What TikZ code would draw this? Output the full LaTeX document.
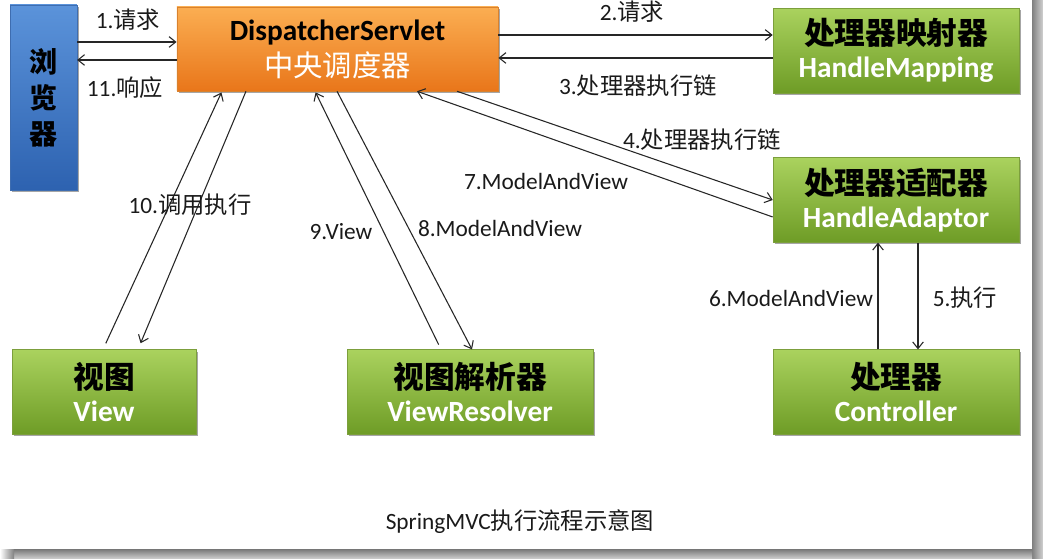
\documentclass[tikz,border=0pt]{standalone}
\usepackage{fontspec}
\setmainfont{Carlito}
\newfontfamily\cjk{Noto Sans CJK SC}
\usetikzlibrary{arrows.meta,shadows,calc}
\definecolor{gtop}{HTML}{AAD25E}
\definecolor{gbot}{HTML}{6E9C26}
\definecolor{gline}{HTML}{7C9F3C}
\definecolor{otop}{HTML}{FBAE52}
\definecolor{obot}{HTML}{E9761A}
\definecolor{oline}{HTML}{D9822E}
\definecolor{btop}{HTML}{5B93DA}
\definecolor{bbot}{HTML}{2D62B0}
\definecolor{bline}{HTML}{3E6DB0}
\definecolor{lbltext}{HTML}{1A1A1A}
\begin{document}
\begin{tikzpicture}[x=0.75pt,y=-0.75pt,
  basebox/.style={rectangle, inner sep=0pt, align=center,
    drop shadow={shadow xshift=1.5pt,shadow yshift=-1.5pt,opacity=0.35,fill=black}},
  greenbox/.style={basebox, draw=gline, top color=gtop, bottom color=gbot,
    minimum width=184.5pt, minimum height=63.5pt},
  orangebox/.style={basebox, draw=oline, top color=otop, bottom color=obot},
  bluebox/.style={basebox, draw=bline, top color=btop, bottom color=bbot},
  arr/.style={-{Straight Barb[length=5pt,width=8pt]}, line width=0.8pt, draw=black!85},
  lbl/.style={font=\fontsize{17.5}{20}\selectfont, text=lbltext, inner sep=1pt}
]
\useasboundingbox (0,0) rectangle (1043,559);
\fill[white] (0,0) rectangle (1043,559);
% frame bars
\shade[left color=black!50, right color=black!18] (1032,0) rectangle (1043,559);
\shade[top color=black!50, bottom color=black!18] (0,550) rectangle (1032,559);
\shade[left color=white, right color=black!50] (0,550) rectangle (14,559);

% nodes
\node[bluebox, minimum width=50pt, minimum height=139pt,
  font=\cjk\bfseries\fontsize{21}{27}\selectfont] (br) at (43.5,97.5)
  {浏\\览\\器};
\node[orangebox, minimum width=241pt, minimum height=63pt] (ds) at (337.5,49)
  {{\bfseries\fontsize{22}{26}\selectfont DispatcherServlet}\\[4pt]
   {\cjk\color{white}\fontsize{22}{26}\selectfont 中央调度器}};
\node[greenbox] (hm) at (896,50.5)
  {{\cjk\bfseries\fontsize{23}{27}\selectfont 处理器映射器}\\[6pt]
   {\bfseries\color{white}\fontsize{22}{26}\selectfont HandleMapping}};
\node[greenbox] (ha) at (896,200)
  {{\cjk\bfseries\fontsize{23}{27}\selectfont 处理器适配器}\\[6pt]
   {\bfseries\color{white}\fontsize{22}{26}\selectfont HandleAdaptor}};
\node[greenbox] (ctrl) at (896,392)
  {{\cjk\bfseries\fontsize{23}{27}\selectfont 处理器}\\[6pt]
   {\bfseries\color{white}\fontsize{22}{26}\selectfont Controller}};
\node[greenbox, minimum width=138pt] (view) at (104,392)
  {{\cjk\bfseries\fontsize{23}{27}\selectfont 视图}\\[6pt]
   {\bfseries\color{white}\fontsize{22}{26}\selectfont View}};
\node[greenbox] (vr) at (470,392)
  {{\cjk\bfseries\fontsize{23}{27}\selectfont 视图解析器}\\[6pt]
   {\bfseries\color{white}\fontsize{22}{26}\selectfont ViewResolver}};

% connectors
\draw[arr] (br.east |- 0,42) -- (ds.west |- 0,42);
\draw[arr] (ds.west |- 0,60) -- (br.east |- 0,60);
\draw[arr] (ds.east |- 0,35) -- (hm.west |- 0,35);
\draw[arr] (hm.west |- 0,58) -- (ds.east |- 0,58);
\draw[arr] (ds.south -| 457,0) -- (ha.west |- 0,200);
\draw[arr] (ha.west |- 0,217) -- (ds.south -| 417,0);
\draw[arr] (ha.south -| 918,0) -- (ctrl.north -| 918,0);
\draw[arr] (ctrl.north -| 878,0) -- (ha.south -| 878,0);
\draw[arr, shorten <=5pt, shorten >=1pt] (view.north -| 103,0) -- (ds.south -| 222,0);
\draw[arr, shorten >=5pt] (ds.south -| 246,0) -- (view.north -| 138,0);
\draw[arr, shorten <=4pt, shorten >=1pt] (vr.north -| 441,0) -- (ds.south -| 315,0);
\draw[arr] (ds.south -| 337,0) -- (vr.north -| 472,0);

% labels
\node[lbl] (l1) at (128,20) {1.{\cjk 请求}};
\node[lbl] (l11) at (125,88) {11.{\cjk 响应}};
\node[lbl] (l2) at (632,12) {2.{\cjk 请求}};
\node[lbl] (l3) at (638,86) {3.{\cjk 处理器执行链}};
\node[lbl] (l4) at (702,140) {4.{\cjk 处理器执行链}};
\node[lbl] (l7) at (546,181) {7.ModelAndView};
\node[lbl] (l10) at (190,205) {10.{\cjk 调用执行}};
\node[lbl] (l9) at (341,232) {9.View};
\node[lbl] (l8) at (500,228) {8.ModelAndView};
\node[lbl] (l6) at (791,298) {6.ModelAndView};
\node[lbl] (l5) at (965,298) {5.{\cjk 执行}};
\node[lbl] (cap) at (520,522) {SpringMVC{\cjk 执行流程示意图}};
\end{tikzpicture}
\end{document}
